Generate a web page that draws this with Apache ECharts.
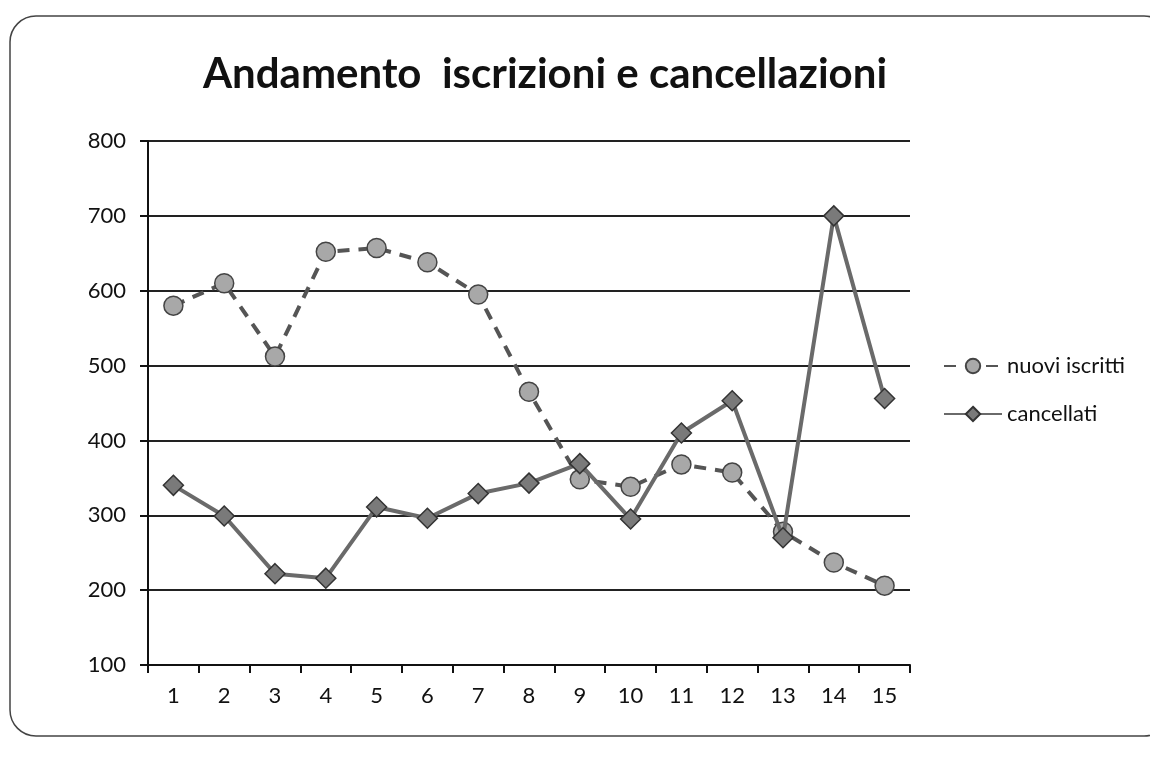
<!DOCTYPE html>
<html>
<head>
<meta charset="utf-8">
<script src="https://cdn.jsdelivr.net/npm/echarts@6/dist/echarts.min.js"></script>
<style>
  html, body { margin: 0; padding: 0; background: #fff; }
  #main { width: 1150px; height: 761px; }
</style>
</head>
<body>
<div id="main"></div>
<script>
var mesi = ['1', '2', '3', '4', '5', '6', '7', '8', '9', '10', '11', '12', '13', '14', '15'];
var nuoviIscritti = [580, 610, 512, 652, 657, 638, 595, 465, 348, 338, 368, 357, 278, 237, 206];
var cancellati = [340, 299, 222, 216, 311, 296, 329, 343, 369, 295, 410, 453, 270, 700, 456];

var chart = echarts.init(document.getElementById('main'));

var option = {
  backgroundColor: '#fff',
  animation: false,
  textStyle: { fontFamily: 'Lato' },
  title: {
    text: 'Andamento  iscrizioni e cancellazioni',
    left: 540,
    textAlign: 'center',
    top: 48,
    textStyle: { fontFamily: 'Lato', fontSize: 42, fontWeight: 'bold', color: '#111' }
  },
  graphic: [{
    type: 'rect',
    shape: { x: 10, y: 16, width: 1160, height: 720, r: 26 },
    style: { fill: 'none', stroke: '#444', lineWidth: 1.5 },
    z: -1
  }],
  legend: {
    orient: 'vertical',
    left: 938,
    top: 350,
    itemWidth: 58,
    itemHeight: 18,
    itemGap: 26,
    textStyle: { fontSize: 22, color: '#111', fontFamily: 'Lato' },
    data: ['nuovi iscritti', 'cancellati']
  },
  grid: { left: 148, right: 240, top: 141, bottom: 96 },
  xAxis: {
    type: 'category',
    data: mesi,
    boundaryGap: true,
    axisLine: { lineStyle: { color: '#111', width: 2 } },
    axisTick: { show: true, length: 8, lineStyle: { color: '#111', width: 2 } },
    axisLabel: { fontSize: 22, color: '#111', margin: 20 }
  },
  yAxis: {
    type: 'value',
    min: 100,
    max: 800,
    interval: 100,
    axisLine: { show: true, lineStyle: { color: '#111', width: 2 } },
    axisTick: { show: true, length: 8, lineStyle: { color: '#111', width: 2 } },
    axisLabel: { fontSize: 22, color: '#111', margin: 22 },
    splitLine: { lineStyle: { color: '#222', width: 2 } }
  },
  series: [{
    name: 'nuovi iscritti',
    type: 'line',
    data: nuoviIscritti,
    symbol: 'circle',
    symbolSize: 19,
    lineStyle: { color: '#555', width: 4, type: [12, 9] },
    itemStyle: { color: '#a8a8a8', borderColor: '#444', borderWidth: 1.5 },
    z: 3
  }, {
    name: 'cancellati',
    type: 'line',
    data: cancellati,
    symbol: 'diamond',
    symbolSize: 20,
    lineStyle: { color: '#6a6a6a', width: 4 },
    itemStyle: { color: '#7a7a7a', borderColor: '#333', borderWidth: 1.5 },
    z: 4
  }]
};

chart.setOption(option);
</script>
</body>
</html>
